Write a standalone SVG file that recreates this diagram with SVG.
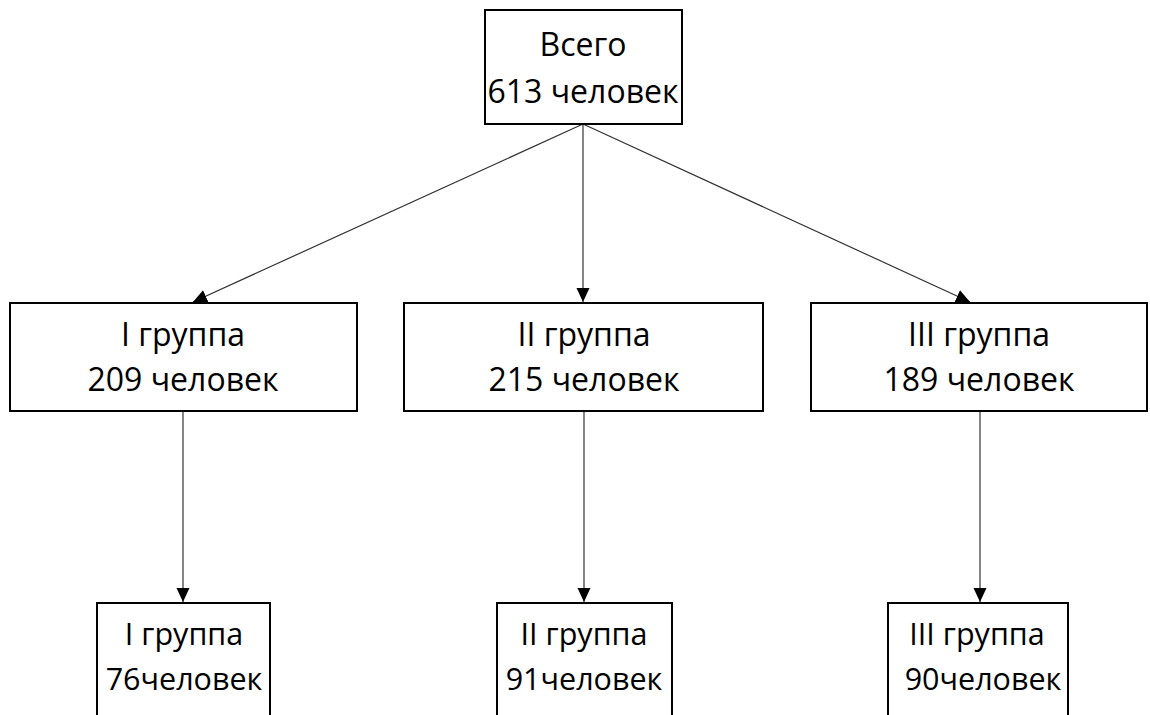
<svg xmlns="http://www.w3.org/2000/svg" width="1150" height="715" viewBox="0 0 1150 715">
<style>
.box{fill:#fff;stroke:#000;stroke-width:2}
.t{font-family:"Open Sans","Noto Sans",sans-serif;font-size:32px;fill:#000;text-anchor:middle}
.s{font-size:30.5px}
.c{stroke:#333;stroke-width:1.2;fill:none;marker-end:url(#ah)}
</style>
<defs>
<marker id="ah" markerUnits="userSpaceOnUse" markerWidth="14" markerHeight="14" viewBox="0 0 14 14" refX="14" refY="7" orient="auto">
<path d="M0,0.5 L14,7 L0,13.5 Z" fill="#000"/>
</marker>
</defs>
<rect width="1150" height="715" fill="#fff"/>
<g id="connectors">
<line class="c" x1="583" y1="124" x2="193" y2="302"/>
<line class="c" x1="583" y1="124" x2="583" y2="302"/>
<line class="c" x1="583" y1="124" x2="970" y2="302"/>
<line class="c" x1="183" y1="411" x2="183" y2="602"/>
<line class="c" x1="584" y1="411" x2="584" y2="602"/>
<line class="c" x1="980" y1="411" x2="980" y2="602"/>
</g>
<g id="total">
<rect class="box" x="485" y="10" width="197" height="114"/>
<text class="t" x="583" y="56">Всего</text>
<text class="t" x="583" y="103">613 человек</text>
</g>
<g id="g1">
<rect class="box" x="10" y="303" width="347" height="108"/>
<text class="t" x="183" y="346">I группа</text>
<text class="t" x="183" y="391">209 человек</text>
</g>
<g id="g2">
<rect class="box" x="404" y="303" width="359" height="108"/>
<text class="t" x="584" y="346">II группа</text>
<text class="t" x="584" y="391">215 человек</text>
</g>
<g id="g3">
<rect class="box" x="811" y="303" width="336" height="108"/>
<text class="t" x="979" y="346">III группа</text>
<text class="t" x="979" y="391">189 человек</text>
</g>
<g id="g1b">
<rect class="box" x="97" y="603" width="173" height="130"/>
<text class="t s" x="184" y="645">I группа</text>
<text class="t s" x="184" y="690">76человек</text>
</g>
<g id="g2b">
<rect class="box" x="497" y="603" width="175" height="130"/>
<text class="t s" x="584" y="645">II группа</text>
<text class="t s" x="584" y="690">91человек</text>
</g>
<g id="g3b">
<rect class="box" x="888" y="603" width="180" height="130"/>
<text class="t s" x="977" y="645">III группа</text>
<text class="t s" x="983" y="690">90человек</text>
</g>
</svg>
